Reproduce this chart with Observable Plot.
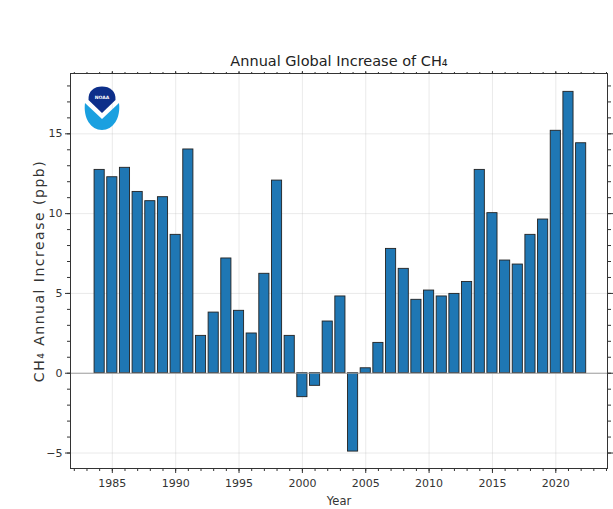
<!DOCTYPE html>
<html>
<head>
<meta charset="utf-8">
<script src="https://cdn.jsdelivr.net/npm/d3@7"></script>
<script src="https://cdn.jsdelivr.net/npm/@observablehq/plot@0.6"></script>
<style>
  html, body { margin: 0; padding: 0; background: #fff; }
  #chart { width: 613px; height: 509px; overflow: hidden; }
  .ylabel text { letter-spacing: 1.5px; }
</style>
</head>
<body>
<div id="chart"></div>
<script>
// Annual global increase of atmospheric methane (ppb per year)
const years = [
  1984, 1985, 1986, 1987, 1988, 1989, 1990, 1991, 1992, 1993,
  1994, 1995, 1996, 1997, 1998, 1999, 2000, 2001, 2002, 2003,
  2004, 2005, 2006, 2007, 2008, 2009, 2010, 2011, 2012, 2013,
  2014, 2015, 2016, 2017, 2018, 2019, 2020, 2021, 2022
];
const increase = [
  12.74, 12.28, 12.87, 11.36, 10.78, 11.03, 8.67, 14.02, 2.34, 3.80,
  7.19, 3.91, 2.49, 6.23, 12.07, 2.34, -1.50, -0.79, 3.24, 4.81,
  -4.91, 0.31, 1.90, 7.79, 6.54, 4.60, 5.18, 4.81, 4.97, 5.72,
  12.74, 10.03, 7.06, 6.81, 8.67, 9.63, 15.19, 17.63, 14.41
];
const xMajorTicks = [1985, 1990, 1995, 2000, 2005, 2010, 2015, 2020];
const yMajorTicks = [-5, 0, 5, 10, 15];
const titleText = "Annual Global Increase of CH₄";
const yLabel = "CH₄ Annual Increase (ppb)";
const xLabel = "Year";

const rows = years.map((year, i) => ({year, value: increase[i]}));
const xMinorTicks = d3.range(1982, 2025);
const yMinorTicks = d3.range(-5, 19);
const blank = () => "";

const chart = Plot.plot({
  width: 613,
  height: 509,
  marginLeft: 70,
  marginRight: 6,
  marginTop: 73,
  marginBottom: 41,
  x: {domain: [1981.7, 2024.08], label: null},
  y: {domain: [-5.97, 18.78], label: null},
  style: {fontFamily: "DejaVu Sans", fontSize: "10.5px", color: "#333", background: "#fff"},
  marks: [
    Plot.gridX(xMajorTicks, {stroke: "#bbb", strokeOpacity: 0.3}),
    Plot.gridY(yMajorTicks.filter(d => d !== 0), {stroke: "#bbb", strokeOpacity: 0.3}),
    Plot.rect(rows, {
      x1: d => d.year - 0.4,
      x2: d => d.year + 0.4,
      y1: 0,
      y2: "value",
      fill: "#1f77b4",
      stroke: "#222",
      strokeWidth: 0.9
    }),
    Plot.ruleY([0], {stroke: "#999", strokeWidth: 1}),
    Plot.frame({stroke: "#333", strokeWidth: 1}),
    // bottom axis: labelled major ticks plus yearly minor ticks
    Plot.axisX(xMinorTicks, {anchor: "bottom", tickSize: 3, tickFormat: blank}),
    Plot.axisX(xMajorTicks, {anchor: "bottom", tickSize: 5, tickPadding: 6, tickFormat: "d", fontSize: 11}),
    // top axis: ticks only
    Plot.axisX(xMinorTicks, {anchor: "top", tickSize: 2, tickFormat: blank}),
    Plot.axisX(xMajorTicks, {anchor: "top", tickSize: 3, tickFormat: blank}),
    // left axis
    Plot.axisY(yMinorTicks, {anchor: "left", tickSize: 3, tickFormat: blank}),
    Plot.axisY(yMajorTicks, {anchor: "left", tickSize: 5, tickPadding: 3, tickFormat: "d", fontSize: 11}),
    // right axis: ticks only
    Plot.axisY(yMinorTicks, {anchor: "right", tickSize: 3, tickFormat: blank}),
    Plot.axisY(yMajorTicks, {anchor: "right", tickSize: 5, tickFormat: blank}),
    Plot.text([titleText], {
      frameAnchor: "top", lineAnchor: "bottom", dy: -8, fontSize: 14.5, fill: "#222"
    }),
    Plot.text([yLabel], {
      className: "ylabel",
      frameAnchor: "left", textAnchor: "middle", lineAnchor: "middle",
      dx: -31, rotate: -90, fontSize: 14, fill: "#333"
    }),
    Plot.text([xLabel], {
      frameAnchor: "bottom", lineAnchor: "bottom", dy: 36, fontSize: 11.5, fill: "#333"
    })
  ]
});

// NOAA emblem in the upper-left corner of the plot area
const logo = d3.select(chart).append("g").attr("class", "emblem");
logo.append("path")
  .attr("d", "M85,103 L102,119 L119,103 C121,118 113,130 102,130 C91,130 83,118 85,103 Z")
  .attr("fill", "#1aa0e0");
logo.append("path")
  .attr("d", "M88.5,100 C88,91 94,86.5 102,86.5 C110,86.5 116,91 115.5,100 L102,113 Z")
  .attr("fill", "#0d2f8a");
logo.append("text")
  .attr("x", 102).attr("y", 99)
  .attr("text-anchor", "middle")
  .attr("font-size", 4.5)
  .attr("font-weight", "bold")
  .attr("font-family", "DejaVu Sans")
  .attr("fill", "#fff")
  .text("NOAA");

document.getElementById("chart").append(chart);
</script>
</body>
</html>
